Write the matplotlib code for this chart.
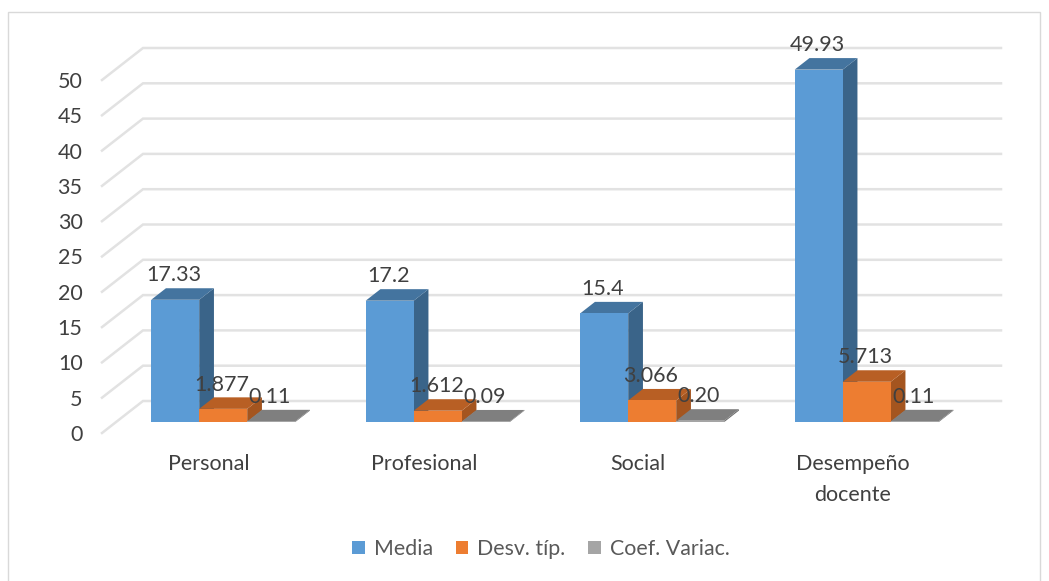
#!/usr/bin/env python3
"""3D-look clustered columns, drawn on a plain 2D axes with a fake depth offset."""
import numpy as np
import matplotlib as mpl
import matplotlib.pyplot as plt
from matplotlib.patches import Polygon, Rectangle

mpl.rcParams["font.family"] = ["Lato", "DejaVu Sans"]

categories = ["Personal", "Profesional", "Social", "Desempeño\n\ndocente"]
series_names = ["Media", "Desv. típ.", "Coef. Variac."]
media = [17.33, 17.2, 15.4, 49.93]
desv = [1.877, 1.612, 3.066, 5.713]
coef = [0.11, 0.09, 0.20, 0.11]
media_labels = ["17.33", "17.2", "15.4", "49.93"]
desv_labels = ["1.877", "1.612", "3.066", "5.713"]
coef_labels = ["0.11", "0.09", "0.20", "0.11"]
y_ticks = [0, 5, 10, 15, 20, 25, 30, 35, 40, 45, 50]

# ---- colours: front, top, side ----
C_BLUE = ("#5B9BD5", "#44749F", "#3A6489")
C_ORANGE = ("#ED7D31", "#B85F24", "#A4551F")
C_GRAY = ("#A5A5A5", "#7F7F7F", "#6E6E6E")
C_GRID = "#E2E2E2"
C_TEXT = "#404040"

W, H = 1049, 581
fig = plt.figure(figsize=(W / 100, H / 100), dpi=100)
fig.patches.append(Rectangle((8 / W, -0.02), 1032 / W, 1 - 12 / H + 0.02, transform=fig.transFigure,
                             fc="white", ec="#D9D9D9", lw=1.0, zorder=-1))

ax = fig.add_axes([102 / W, 1 - 433 / H, 858 / W, 353 / H])
ax.patch.set_visible(False)
ax.set_xlim(-0.5, 3.5)
ax.set_ylim(0, 50)
for s in ax.spines.values():
    s.set_visible(False)

DX = 41 / 214.5        # full depth of the box, in category units
DY = 32 / 7.06         # same, in value units
D0, D1 = 0.34, 0.70    # depth range taken by the columns
BAR_W = 48 / 214.5

# grid: side wall + back wall
for v in y_ticks:
    ax.plot([-0.5, -0.5 + DX, 3.5 + DX], [v, v + DY, v + DY], color=C_GRID, lw=1.8,
            clip_on=False, zorder=1, solid_joinstyle="miter")

z = 3
offsets = [-BAR_W, 0, BAR_W]
all_series = [(media, media_labels, C_BLUE), (desv, desv_labels, C_ORANGE), (coef, coef_labels, C_GRAY)]
for i in range(len(categories)):
    for (vals, labs, cols), off in zip(all_series, offsets):
        v = vals[i]
        x0 = i + D0 * DX + off - BAR_W / 2
        x1 = x0 + BAR_W
        y0 = D0 * DY
        y1 = y0 + v
        dx = (D1 - D0) * DX
        dy = (D1 - D0) * DY
        ax.add_patch(Polygon([(x1, y0), (x1 + dx, y0 + dy), (x1 + dx, y1 + dy), (x1, y1)],
                             fc=cols[2], ec="none", clip_on=False, zorder=z))
        ax.add_patch(Polygon([(x0, y1), (x0 + dx, y1 + dy), (x1 + dx, y1 + dy), (x1, y1)],
                             fc=cols[1], ec="none", clip_on=False, zorder=z))
        ax.bar([x0 + BAR_W / 2], [v], BAR_W, bottom=y0, color=cols[0], clip_on=False, zorder=z + 0.5)
        z += 1

for i in range(len(categories)):
    for (vals, labs, cols), off in zip(all_series, offsets):
        ax.annotate(labs[i], (i + D0 * DX + off, D0 * DY + vals[i]), xytext=(-1, 17.5),
                    textcoords="offset points", ha="center", va="center",
                    fontsize=15.5, color=C_TEXT, zorder=100, annotation_clip=False)

ax.set_xticks(range(len(categories)))
ax.set_xticklabels(categories, fontsize=15.5, color=C_TEXT, linespacing=0.72)
ax.set_yticks(y_ticks)
ax.set_yticklabels([str(t) for t in y_ticks], fontsize=15.5, color=C_TEXT)
ax.tick_params(axis="x", length=0, pad=15)
ax.tick_params(axis="y", length=0, pad=14)

leg_handles = [Rectangle((0, 0), 1, 1, fc=c[0]) for c in (C_BLUE, C_ORANGE, C_GRAY)]
fig.legend(leg_handles, series_names, loc="center", bbox_to_anchor=(541 / W, 1 - 549 / H),
           ncol=3, frameon=False, fontsize=15.4, labelcolor="#595959", handlelength=0.6,
           handleheight=0.6, handletextpad=0.42, columnspacing=1.05)

fig.savefig("out.png", dpi=100)
